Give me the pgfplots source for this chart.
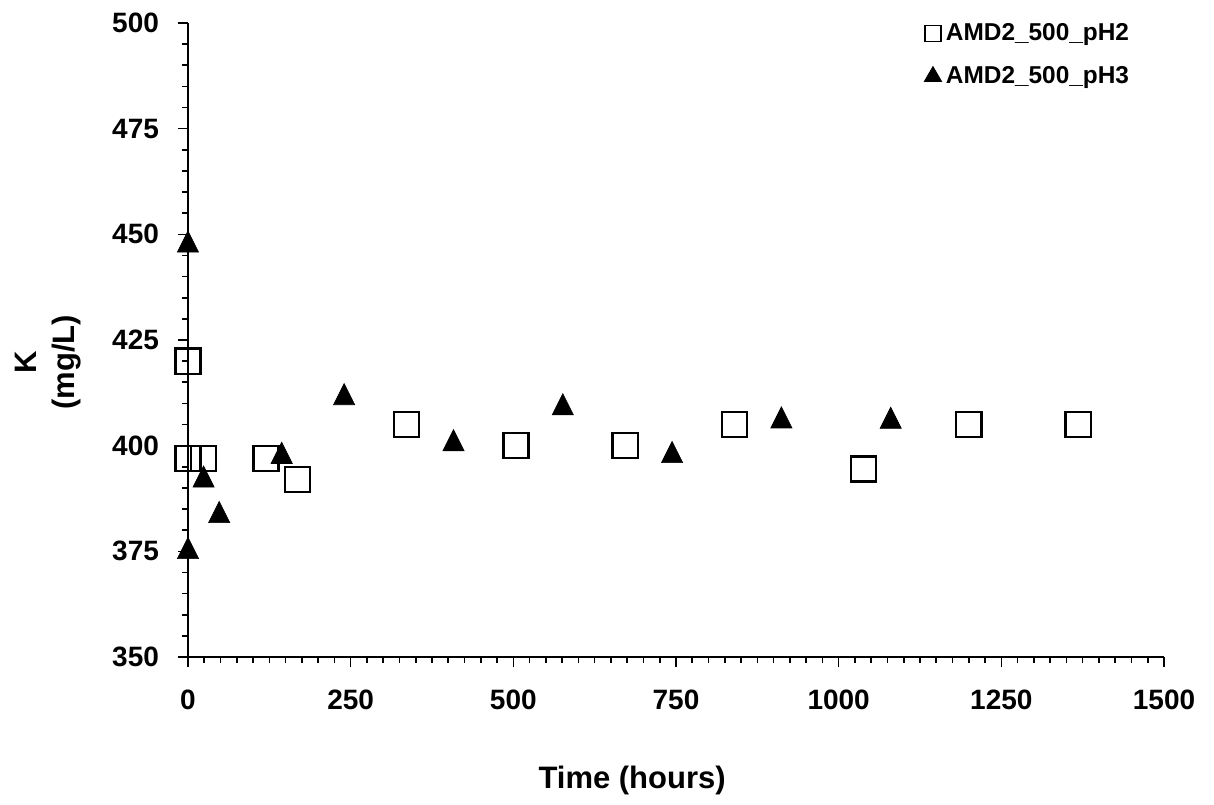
\documentclass[border=0pt]{standalone}
\usepackage{fontspec}
\setmainfont{Liberation Sans}
\usepackage{pgfplots}
\pgfplotsset{compat=1.18}
\pgfdeclareplotmark{xtri}{%
  \pgfpathmoveto{\pgfqpoint{0pt}{\pgfplotmarksize}}%
  \pgfpathlineto{\pgfqpoint{-\pgfplotmarksize}{-\pgfplotmarksize}}%
  \pgfpathlineto{\pgfqpoint{\pgfplotmarksize}{-\pgfplotmarksize}}%
  \pgfpathclose\pgfusepathqfillstroke}
\begin{document}
\begin{tikzpicture}
\path[use as bounding box] (-94pt,-73.5pt) rectangle (513pt,328.5pt);
\begin{axis}[
  scale only axis,
  width=488pt, height=317pt,
  xmin=0, xmax=1500, ymin=350, ymax=500,
  axis x line*=bottom, axis y line*=left,
  axis line style={line width=0.9pt},
  xtick distance=250, ytick distance=25,
  minor x tick num=9, minor y tick num=4,
  tick align=outside,
  major tick length=5pt, minor tick length=3pt,
  every tick/.style={line width=0.8pt, black},
  /pgf/number format/assume math mode=true,
  /pgf/number format/set thousands separator={},
  ticklabel style={font=\fontsize{14}{16}\selectfont\bfseries},
  xticklabel style={yshift=-8pt},
  yticklabel style={xshift=-6pt},
  xlabel={Time (hours)},
  xlabel style={at={(axis description cs:0.455,-0.194)}, anchor=center, font=\fontsize{15.5}{18}\selectfont\bfseries},
  ylabel={K\\(mg/L)},
  ylabel style={at={(axis description cs:-0.1434,0.465)}, anchor=center, align=center, font=\fontsize{15.5}{19}\selectfont\bfseries},
  clip=false,
  legend style={at={(axis description cs:0.754,1.003)}, anchor=north west, draw=none, fill=none,
    font=\fontsize{12.2}{14}\selectfont\bfseries, row sep=9.5pt, inner sep=0pt,
    nodes={inner sep=1pt}},
  legend cell align=left,
  legend image code/.code={\draw[#1] plot coordinates {(0.1cm,0cm)}; \path[draw=none,fill=none] (0.1cm,0pt) -- ++(5.5pt,0pt);},
]
\addlegendimage{only marks, mark=square, mark size=4pt, black, mark options={line width=0.8pt}}
\addlegendentry{AMD2\_500\_pH2}
\addlegendimage{only marks, mark=triangle*, mark size=5pt, black}
\addlegendentry{AMD2\_500\_pH3}
\addplot[only marks, mark=square, mark size=6.3pt, black, mark options={line width=1.2pt}, forget plot] coordinates {
(0,420) (0,397) (24,397) (120,397) (168,392) (336,405) (504,400) (672,400) (840,405) (1038,394.5) (1200,405) (1368,405)
};
\addplot[only marks, mark=xtri, mark size=5.3pt, black, mark options={line width=0.3pt}, forget plot] coordinates {
(0,448.3) (0,375.8) (24,392.7) (48,384.3) (144,398.3) (240,412.2) (408,401.3) (576,409.8) (744,398.5) (912,406.7) (1080,406.6)
};
\end{axis}
\end{tikzpicture}
\end{document}
